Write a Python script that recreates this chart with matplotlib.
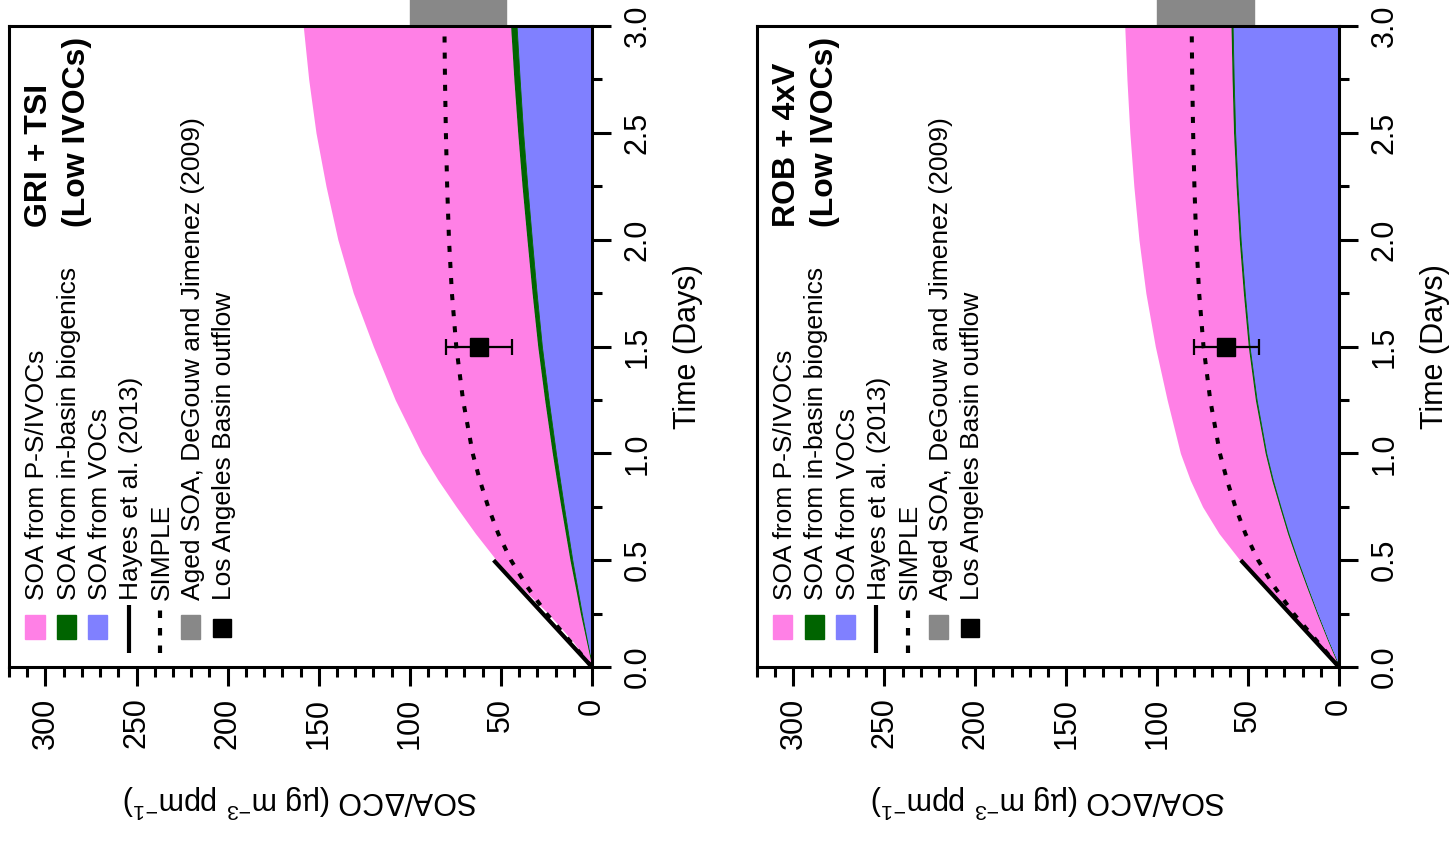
import matplotlib
matplotlib.use('Agg')
import matplotlib.pyplot as plt
from matplotlib.patches import Rectangle
from matplotlib.lines import Line2D

plt.rcParams['font.family'] = ['Liberation Sans', 'DejaVu Sans']
plt.rcParams['mathtext.fontset'] = 'custom'
plt.rcParams['mathtext.rm'] = 'Liberation Sans'
plt.rcParams['mathtext.it'] = 'Liberation Sans:italic'
plt.rcParams['mathtext.bf'] = 'Liberation Sans:bold'

# time since emission (days)
days = [0, 0.125, 0.25, 0.375, 0.5, 0.625, 0.75, 0.875, 1.0,
        1.25, 1.5, 1.75, 2.0, 2.25, 2.5, 2.75, 3.0]

# GRI + TSI (Low IVOCs), SOA/dCO in ug m-3 ppm-1
vocs_gri = [0, 2.8, 5.6, 8.2, 10.8, 13.1, 15.4, 17.6, 19.8,
            23.8, 27.5, 30.4, 33.0, 35.5, 37.8, 39.7, 41.4]
bio_gri = [0, 0.4, 0.8, 1.0, 1.3, 1.5, 1.7, 1.9, 2.0,
           2.2, 2.3, 2.5, 2.7, 2.9, 3.0, 3.2, 3.3]
total_gri = [0, 11, 24, 39, 52.5, 64, 74.5, 84.5, 93.5,
             108, 120, 131, 139.5, 146, 151.5, 155.5, 158.5]

# ROB + 4xV (Low IVOCs)
vocs_rob = [0, 6.2, 12.0, 17.5, 22.8, 27.8, 32.2, 36.4, 40.0,
            45.3, 49.2, 51.8, 54.1, 55.8, 57.1, 57.9, 58.5]
bio_rob = [0, 0.1, 0.2, 0.3, 0.4, 0.5, 0.5, 0.6, 0.6,
           0.7, 0.7, 0.8, 0.8, 0.8, 0.9, 0.9, 0.9]
total_rob = [0, 13, 26.5, 41, 54.5, 66, 75, 81.8, 87.2,
             94.5, 101, 106.2, 110, 112.8, 115, 116.6, 117.8]

# SIMPLE parameterization (same in both panels)
simple = [0, 12.5, 25, 35.5, 44.5, 51.5, 57, 61.6, 65.5,
          70.8, 74.5, 76.9, 78.5, 79.5, 80.2, 80.7, 81.0]

# Hayes et al. (2013)
hayes_days = [0, 0.5]
hayes_soa = [0, 54]

# LA basin outflow point
la_day = 1.5
la_soa = 62
la_err = 18

# aged SOA range, DeGouw and Jimenez (2009)
aged_lo, aged_hi = 47, 100

legend_labels = ['SOA from P-S/IVOCs', 'SOA from in-basin biogenics', 'SOA from VOCs',
                 'Hayes et al. (2013)', 'SIMPLE',
                 'Aged SOA, DeGouw and Jimenez (2009)', 'Los Angeles Basin outflow']

PINK = '#ff80e6'
GREEN = '#006400'
BLUE = '#8080ff'
GRAY = '#888888'


def draw_panel(ax, vocs, bio, total, title1, title2):
    top_bio = [v + b for v, b in zip(vocs, bio)]
    ax.fill_betweenx(days, 0, vocs, color=BLUE, lw=0, zorder=1)
    ax.fill_betweenx(days, vocs, top_bio, facecolor=GREEN, edgecolor=GREEN, lw=0.6, zorder=1)
    ax.fill_betweenx(days, top_bio, total, color=PINK, lw=0, zorder=1)
    ax.plot(hayes_soa, hayes_days, color='k', lw=3, solid_capstyle='butt', zorder=3)
    ax.plot(simple, days, color='k', lw=2.9, ls=(0, (1.5, 2.5)), zorder=3)
    ax.errorbar(la_soa, la_day, xerr=la_err, fmt='s', color='k', ms=13,
                capsize=6, elinewidth=1.6, capthick=1.6, zorder=4)
    ax.add_patch(Rectangle((aged_lo, 3.0), aged_hi - aged_lo, 0.2, color=GRAY,
                           clip_on=False, zorder=1))

    ax.set_xlim(320, 0)
    ax.set_ylim(0, 3)
    ax.set_xticks(range(0, 301, 50))
    ax.set_xticks(range(0, 321, 10), minor=True)
    ax.set_yticks([0, 0.5, 1.0, 1.5, 2.0, 2.5, 3.0])
    ax.set_yticklabels(['%.1f' % v for v in [0, 0.5, 1.0, 1.5, 2.0, 2.5, 3.0]])
    ax.set_yticks([0.25, 0.75, 1.25, 1.75, 2.25, 2.75], minor=True)
    ax.yaxis.tick_right()
    ax.yaxis.set_label_position('right')
    for s in ax.spines.values():
        s.set_linewidth(2.2)
    ax.tick_params(which='both', direction='out', width=2.2, labelsize=22)
    ax.tick_params(which='major', length=14, pad=8)
    ax.tick_params(which='minor', length=7)
    ax.tick_params(axis='x', labelrotation=90)
    ax.tick_params(axis='y', labelrotation=90)
    plt.setp(ax.get_yticklabels(), va='center')

    ax.set_xlabel('SOA/ΔCO (µg m$^{-3}$ ppm$^{-1}$)', fontsize=22, rotation=180, labelpad=24)
    ax.set_ylabel('Time (Days)', fontsize=22, rotation=90, labelpad=15)

    # title
    ax.text(0.052, 0.686, title1, transform=ax.transAxes, rotation=90, ha='center',
            va='bottom', fontsize=23, fontweight='bold')
    ax.text(0.117, 0.686, title2, transform=ax.transAxes, rotation=90, ha='center',
            va='bottom', fontsize=23, fontweight='bold')

    # legend drawn in the rotated frame
    cols = [0.0446 + 0.0535 * i for i in range(7)]
    for cx, c in zip([cols[0], cols[1], cols[2], cols[5]], [PINK, GREEN, BLUE, GRAY]):
        ax.add_patch(Rectangle((cx - 0.0163, 0.0437), 0.0326, 0.0374, color=c,
                               transform=ax.transAxes, clip_on=False, zorder=5))
    ax.add_line(Line2D([cols[3], cols[3]], [0.0218, 0.0967], transform=ax.transAxes,
                       color='k', lw=3, solid_capstyle='butt'))
    ax.add_line(Line2D([cols[4], cols[4]], [0.0218, 0.0967], transform=ax.transAxes,
                       color='k', lw=3, ls=(0, (1.8, 2.4))))
    ax.plot(cols[6], 0.0608, 's', color='k', ms=13, transform=ax.transAxes, clip_on=False)
    for cx, lab in zip(cols, legend_labels):
        ax.text(cx + 0.004, 0.1045, lab, transform=ax.transAxes, rotation=90,
                ha='center', va='bottom', fontsize=19)


fig = plt.figure(figsize=(14.51, 8.44), dpi=100)
ax1 = fig.add_axes([9 / 1451, 177 / 844, 583 / 1451, 641 / 844])
ax2 = fig.add_axes([757 / 1451, 177 / 844, 582 / 1451, 641 / 844])

draw_panel(ax1, vocs_gri, bio_gri, total_gri, 'GRI + TSI', '(Low IVOCs)')
draw_panel(ax2, vocs_rob, bio_rob, total_rob, 'ROB + 4xV', '(Low IVOCs)')

fig.savefig('out.png', dpi=100)
